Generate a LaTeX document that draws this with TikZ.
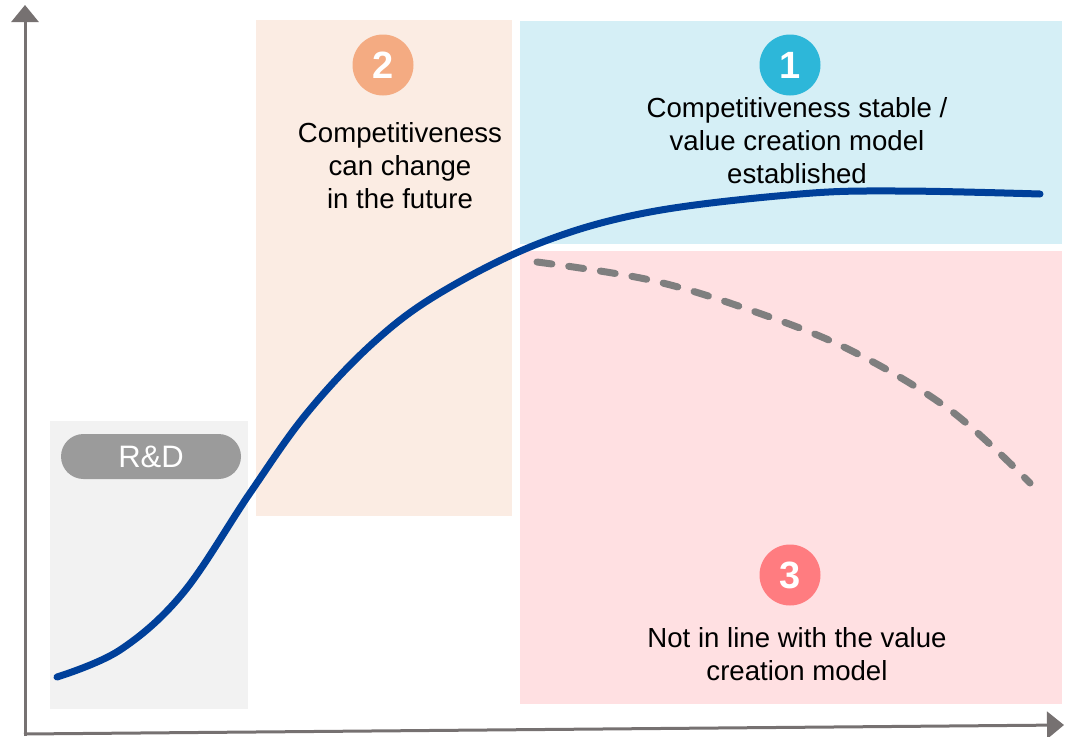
\documentclass[tikz,border=0pt]{standalone}
\usepackage{fontspec}
\setmainfont{Liberation Sans}
\usetikzlibrary{arrows.meta,shapes.misc}
\definecolor{axisgray}{HTML}{767171}
\definecolor{rdback}{HTML}{F2F2F2}
\definecolor{rdpill}{HTML}{9B9B9B}
\definecolor{peachback}{HTML}{FBECE3}
\definecolor{blueback}{HTML}{D5EFF6}
\definecolor{pinkback}{HTML}{FFE0E2}
\definecolor{peachdot}{HTML}{F4AB82}
\definecolor{bluedot}{HTML}{2DB7D9}
\definecolor{pinkdot}{HTML}{FF7C80}
\definecolor{curveblue}{HTML}{00409A}
\definecolor{dashgray}{HTML}{7F7F7F}
\begin{document}
\begin{tikzpicture}[x=0.5pt,y=0.5pt,
  axis/.style={draw=axisgray, line width=1.5pt, -{Triangle[width=13.5pt,length=8.5pt]}},
  badge/.style={circle, minimum size=30.5pt, inner sep=0pt, text=white, font=\fontsize{19}{22}\selectfont\bfseries},
  caption/.style={align=center, font=\fontsize{13.8}{16.5}\selectfont}]
\useasboundingbox (0,0) rectangle (1071,736);
% zones
\fill [rdback] (50,27) rectangle (248,315);
\fill [peachback] (256,220) rectangle (512,716);
\fill [blueback] (520,492) rectangle (1062,715);
\fill [pinkback] (520,32) rectangle (1062,485);
% axes
\draw [axis] (25,0) -- (25,731);
\draw [axis] (24,2) -- (1064,11);
% R&D label
\node (rd) [rounded rectangle, fill=rdpill, text=white, minimum width=90pt, minimum height=22.5pt, inner sep=0pt, font=\fontsize{15.5}{18}\selectfont] at (151,279.5) {R\&D};
% numbered badges
\node (two) [badge, fill=peachdot] at (383,671) {2};
\node (one) [badge, fill=bluedot] at (790,671) {1};
\node (three) [badge, fill=pinkdot] at (790,161) {3};
% texts
\node (future) [caption] at (400,570) {Competitiveness\\can change\\in the future};
\node (stable) [caption] at (797,595) {Competitiveness stable /\\value creation model\\established};
\node (notinline) [caption] at (797,82) {Not in line with the value\\creation model};
% curves
\draw [dashgray, line width=3.5pt, line cap=round, dash pattern=on 7.5pt off 8.5pt]
  plot [smooth, tension=0.6] coordinates {(537,474) (650,456) (750,426) (850,386) (950,326) (1030,253)};
\draw [curveblue, line width=3.5pt, line cap=round]
  plot [smooth, tension=0.6] coordinates {(57,59) (120,86) (183,143) (250,243) (307,323) (373,393) (440,443) (540,493) (650,524) (800,542) (900,545) (1040,542)};
\end{tikzpicture}
\end{document}
